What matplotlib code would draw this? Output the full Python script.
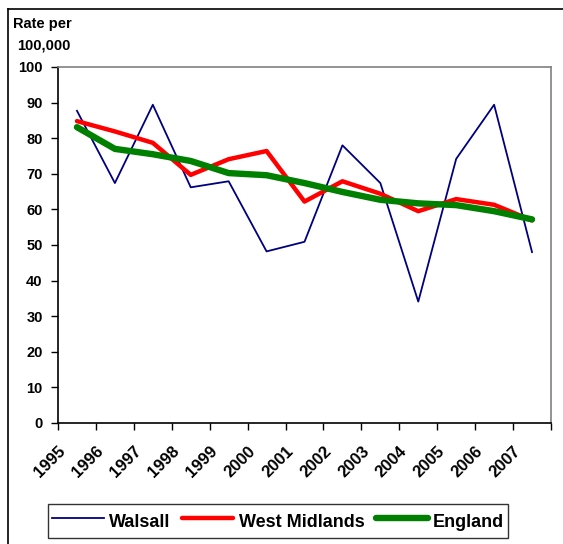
import numpy as np
import matplotlib.pyplot as plt
from matplotlib.lines import Line2D

plt.rcParams['font.family'] = ['Liberation Sans', 'DejaVu Sans']

years = ['1995', '1996', '1997', '1998', '1999', '2000', '2001',
         '2002', '2003', '2004', '2005', '2006', '2007']
walsall = [87.7, 67.4, 89.4, 66.2, 67.9, 48.2, 50.9, 78.0, 67.4, 34.1, 74.2, 89.4, 48.0]
west_midlands = [84.8, 81.9, 78.7, 69.7, 74.1, 76.4, 62.2, 67.9, 64.4, 59.5, 62.9, 61.3, 56.9]
england = [83.1, 77.0, 75.5, 73.6, 70.2, 69.6, 67.4, 64.9, 62.7, 61.7, 61.2, 59.5, 57.2]
y_ticks = [0, 10, 20, 30, 40, 50, 60, 70, 80, 90, 100]

fig = plt.figure(figsize=(5.63, 5.44), dpi=100)
ax = fig.add_axes([58 / 563, 1 - 423 / 544, (551 - 58) / 563, (423 - 67) / 544])

x = np.arange(len(years))
ax.plot(x, walsall, color='#000080', lw=1.3, label='Walsall')
ax.plot(x, west_midlands, color='#ff0000', lw=3.2, label='West Midlands', solid_capstyle='round')
ax.plot(x, england, color='#008000', lw=4.6, label='England', solid_capstyle='round')

ax.set_xlim(-0.5, len(years) - 0.5)
ax.set_ylim(0, 100)
ax.set_yticks(y_ticks)
ax.set_yticklabels([str(v) for v in y_ticks], fontsize=10.5, fontweight='bold')
# category boundaries carry the tick marks, labels sit left of centre
ax.xaxis.remove_overlapping_locs = False
ax.set_xticks(np.arange(len(years) + 1) - 0.5)
ax.set_xticklabels([])
ax.set_xticks(x - 0.5, minor=True)
ax.set_xticklabels(years, minor=True, rotation=45, ha='right', va='top',
                   rotation_mode='anchor', fontsize=12, fontweight='bold')
ax.tick_params(axis='x', which='minor', length=0, pad=15)
ax.tick_params(axis='x', which='major', length=5, direction='out', width=1)
ax.tick_params(axis='y', length=5, direction='out', width=1, pad=6)

for side in ['left', 'bottom']:
    ax.spines[side].set_color('black')
    ax.spines[side].set_linewidth(1.2)
for side in ['top', 'right']:
    ax.spines[side].set_color('#808080')
    ax.spines[side].set_linewidth(1.2)

fig.text(13 / 563, 1 - 24 / 544, 'Rate per', fontsize=10.5, fontweight='bold', va='center')
fig.text(17 / 563, 1 - 46 / 544, '100,000', fontsize=10.5, fontweight='bold', va='center')

# outer border (left and top only, rest falls outside the picture)
fig.add_artist(Line2D([8 / 563, 8 / 563], [0, 1 - 9 / 544], color='black', lw=1.2))
fig.add_artist(Line2D([8 / 563, 1], [1 - 9 / 544, 1 - 9 / 544], color='black', lw=1.2))

leg = fig.legend(loc='center', bbox_to_anchor=(278 / 563, 1 - 521 / 544), ncol=3,
                 frameon=True, fancybox=False, edgecolor='black', handlelength=2.85,
                 handleheight=1.8, columnspacing=0.66, handletextpad=0.28, borderpad=0.25,
                 prop={'weight': 'bold', 'size': 13})
leg.get_frame().set_linewidth(1.0)

fig.savefig('out.png', dpi=100)
